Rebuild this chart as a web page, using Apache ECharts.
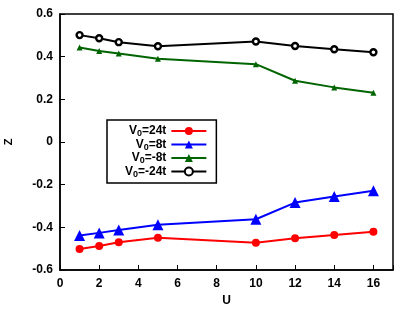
<!DOCTYPE html>
<html>
<head>
<meta charset="utf-8">
<script src="https://cdn.jsdelivr.net/npm/echarts@6/dist/echarts.min.js"></script>
<style>html,body{margin:0;padding:0;background:#fff}#c{width:415px;height:310px}</style>
</head>
<body>
<div id="c"></div>
<script>
const U = [1, 2, 3, 5, 10, 12, 14, 16];
const seriesNames = ['V0=24t', 'V0=8t', 'V0=-8t', 'V0=-24t'];
const zV24 = [-0.502, -0.487, -0.470, -0.449, -0.472, -0.451, -0.436, -0.421];
const zV8 = [-0.438, -0.426, -0.413, -0.388, -0.362, -0.284, -0.255, -0.229];
const zVm8 = [0.443, 0.427, 0.415, 0.390, 0.365, 0.287, 0.256, 0.231];
const zVm24 = [0.501, 0.486, 0.468, 0.449, 0.471, 0.450, 0.435, 0.421];
const xTicks = [0, 2, 4, 6, 8, 10, 12, 14, 16];
const yTicks = [-0.6, -0.4, -0.2, 0, 0.2, 0.4, 0.6];

const colors = ['#ff0000', '#0000ff', '#006400', '#000000'];
const values = [zV24, zV8, zVm8, zVm24];
const symbols = ['circle', 'triangle', 'triangle', 'circle'];
const sizes = [8, 11, 6, 6];

const font = '"Liberation Sans", Arial, sans-serif';
const chart = echarts.init(document.getElementById('c'));

const series = seriesNames.map((n, i) => ({
  name: n,
  type: 'line',
  data: U.map((u, j) => [u, values[i][j]]),
  symbol: symbols[i],
  symbolSize: sizes[i],
  showAllSymbol: true,
  lineStyle: { color: colors[i], width: 2 },
  itemStyle: i === 3
    ? { color: '#ffffff', borderColor: colors[i], borderWidth: 2.4 }
    : { color: colors[i], borderWidth: 0 },
  animation: false,
  z: 2 + i
}));

chart.setOption({
  animation: false,
  grid: { left: 60, right: 22, top: 14, bottom: 40, show: true, borderColor: '#000', borderWidth: 1.5, backgroundColor: 'transparent', containLabel: false, outerBoundsMode: 'none' },
  xAxis: {
    type: 'value', min: 0, max: 17, interval: 2,
    name: 'U', nameLocation: 'middle', nameGap: 24,
    nameTextStyle: { fontFamily: font, fontWeight: 'bold', fontSize: 12, color: '#000' },
    axisLine: { onZero: false, lineStyle: { color: '#000', width: 1.5 } },
    axisTick: { inside: true, length: 5, lineStyle: { color: '#000', width: 1 } },
    splitLine: { show: false },
    axisLabel: {
      margin: 8, fontFamily: font, fontWeight: 'bold', fontSize: 12, color: '#000',
      formatter: v => xTicks.includes(v) ? String(v) : ''
    }
  },
  yAxis: {
    type: 'value', min: -0.6, max: 0.6, interval: 0.2,
    name: 'Z', nameLocation: 'middle', nameGap: 46,
    nameTextStyle: { fontFamily: font, fontWeight: 'bold', fontSize: 11, color: '#000' },
    axisLine: { onZero: false, lineStyle: { color: '#000', width: 1.5 } },
    axisTick: { inside: true, length: 5, lineStyle: { color: '#000', width: 1 } },
    splitLine: { show: false },
    axisLabel: {
      margin: 7, fontFamily: font, fontWeight: 'bold', fontSize: 12, color: '#000',
      formatter: v => {
        const r = Math.round(v * 10) / 10;
        const t = yTicks.find(y => Math.abs(y - r) < 1e-9);
        return t === undefined ? '' : (t === 0 ? '0' : t.toFixed(1));
      }
    }
  },
  legend: {
    orient: 'vertical', align: 'right', left: 107, top: 120,
    backgroundColor: '#fff', borderColor: '#000', borderWidth: 1.5,
    padding: [5, 9, 4, 18], itemGap: 0, itemWidth: 35, itemHeight: 10,
    data: seriesNames,
    formatter: n => '{t|V}{s|0}{t|' + n.slice(2) + '}',
    textStyle: {
      color: '#000', fontFamily: font, fontWeight: 'bold', fontSize: 12,
      rich: {
        t: { fontFamily: font, fontWeight: 'bold', fontSize: 12, color: '#000', lineHeight: 12 },
        s: { fontFamily: font, fontWeight: 'bold', fontSize: 9, color: '#000', padding: [6, 0, 0, 0] }
      }
    }
  },
  series: series
});
</script>
</body>
</html>
